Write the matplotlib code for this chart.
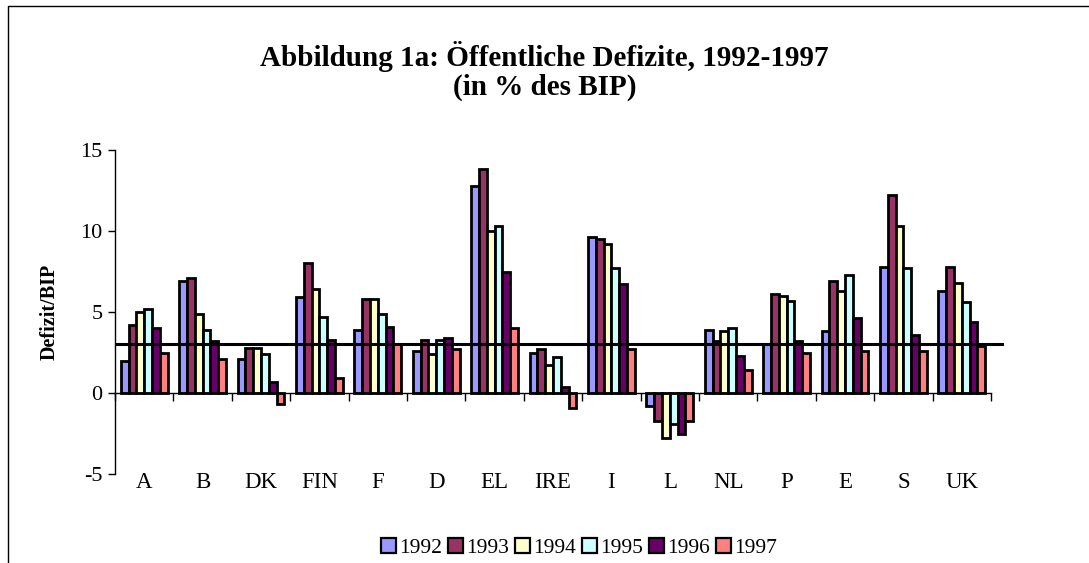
import numpy as np
import matplotlib
matplotlib.use("Agg")
import matplotlib.pyplot as plt
from matplotlib.patches import Patch
from matplotlib.lines import Line2D

plt.rcParams['font.family'] = ['Liberation Serif', 'DejaVu Serif']
plt.rcParams['axes.unicode_minus'] = False

countries = ['A', 'B', 'DK', 'FIN', 'F', 'D', 'EL', 'IRE', 'I', 'L', 'NL', 'P', 'E', 'S', 'UK']
years = ['1992', '1993', '1994', '1995', '1996', '1997']

# Defizit in % des BIP, per year
d1992 = [2.0, 6.9, 2.1, 5.9, 3.9, 2.6, 12.8, 2.5, 9.6, -0.8, 3.9, 3.0, 3.8, 7.8, 6.3]
d1993 = [4.2, 7.1, 2.8, 8.0, 5.8, 3.3, 13.8, 2.7, 9.5, -1.7, 3.2, 6.1, 6.9, 12.2, 7.8]
d1994 = [5.0, 4.9, 2.8, 6.4, 5.8, 2.4, 10.0, 1.7, 9.2, -2.8, 3.8, 6.0, 6.3, 10.3, 6.8]
d1995 = [5.2, 3.9, 2.4, 4.7, 4.9, 3.3, 10.3, 2.2, 7.7, -1.9, 4.0, 5.7, 7.3, 7.7, 5.6]
d1996 = [4.0, 3.2, 0.7, 3.3, 4.1, 3.4, 7.5, 0.4, 6.7, -2.5, 2.3, 3.2, 4.6, 3.6, 4.4]
d1997 = [2.5, 2.1, -0.7, 0.9, 3.0, 2.7, 4.0, -0.9, 2.7, -1.7, 1.4, 2.5, 2.6, 2.6, 2.9]
series = [d1992, d1993, d1994, d1995, d1996, d1997]
colors = ['#9999FF', '#993366', '#FFFFCC', '#CCFFFF', '#660066', '#FF8080']
maastricht = 3.0

fig = plt.figure(figsize=(10.89, 5.63), dpi=100)
ax = fig.add_axes([115 / 1089, 1 - 474 / 563, 876 / 1089, 324 / 563])

x = np.arange(len(countries))
w = 0.8 / len(series)
for i, (vals, c) in enumerate(zip(series, colors)):
    ax.bar(x - 0.4 + w * (i + 0.5), vals, w, color=c, edgecolor='black', linewidth=2.0, zorder=2)

ax.set_xlim(-0.5, len(countries) - 0.5)
ax.set_ylim(-5, 15)
ax.set_yticks([-5, 0, 5, 10, 15])
ax.tick_params(axis='y', labelsize=16, direction='out', length=5, width=1, pad=4)

# x axis crossing at zero, category boundary ticks
ax.spines['top'].set_visible(False)
ax.spines['right'].set_visible(False)
ax.spines['bottom'].set_position(('data', 0))
ax.spines['bottom'].set_linewidth(1)
ax.spines['left'].set_linewidth(1)
ax.set_xticks(np.arange(-0.5, len(countries)), labels=[])
ax.tick_params(axis='x', which='major', direction='out', length=6, width=1)
ax.set_xticks(x, labels=countries, minor=True)
ax.tick_params(axis='x', which='minor', length=0, labelsize=16.5, pad=57)

# 3% line
ax.plot([-0.47, len(countries) - 0.31], [maastricht, maastricht], color='black',
        linewidth=2.2, clip_on=False, zorder=3)

ax.set_ylabel('Defizit/BIP', fontsize=14.5, fontweight='bold', labelpad=15)

fig.text(0.5, 1 - 71 / 563, 'Abbildung 1a: Öffentliche Defizite, 1992-1997\n(in % des BIP)',
         ha='center', va='center', fontsize=21, fontweight='bold', linespacing=1.1)

handles = [Patch(facecolor=c, edgecolor='black', linewidth=1.6) for c in colors]
fig.legend(handles, years, loc='center', bbox_to_anchor=(579 / 1089, 1 - 548 / 563), ncol=6,
           frameon=False, fontsize=15.5, handlelength=0.7, handleheight=0.7,
           handletextpad=0.12, columnspacing=0.3, borderpad=0)

# chart area border (left and top only visible in the crop)
fig.add_artist(Line2D([8 / 1089, 8 / 1089, 1.0], [0.0, 1 - 6 / 563, 1 - 6 / 563],
                      transform=fig.transFigure, color='black', linewidth=1))

fig.savefig('out.png', dpi=100)
